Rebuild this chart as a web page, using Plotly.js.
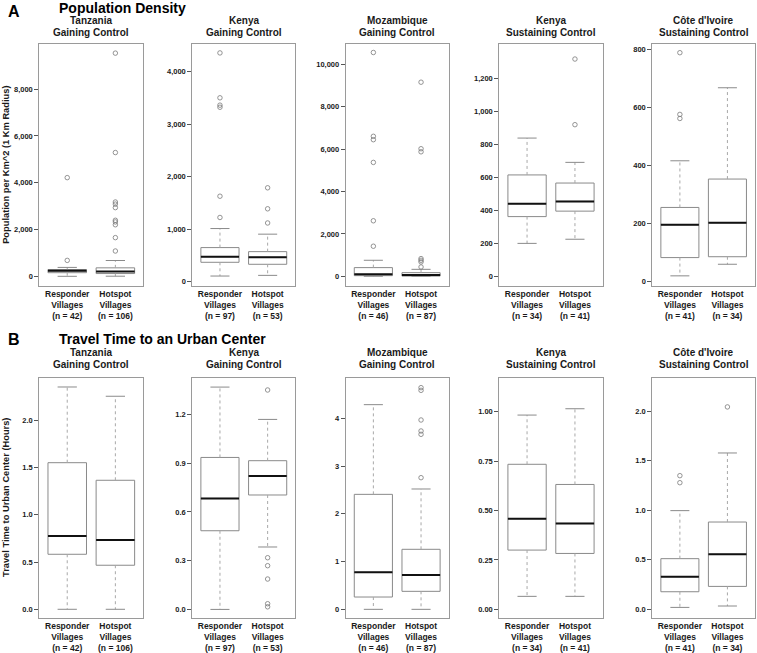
<!DOCTYPE html>
<html><head><meta charset="utf-8">
<script src="https://cdn.plot.ly/plotly-3.0.1.min.js"></script>
<style>html,body{margin:0;padding:0;background:#fff}#chart{width:757px;height:653px}</style>
</head><body><div id="chart"></div>
<script>
// ---------- DATA ----------
const groups = ["Responder Villages", "Hotspot Villages"];
const panelCountries = ["Tanzania", "Kenya", "Mozambique", "Kenya", "Côte d'Ivoire"];
const panelStatus = ["Gaining Control", "Gaining Control", "Gaining Control", "Sustaining Control", "Sustaining Control"];
const respN = [42, 97, 46, 34, 41];
const hotN = [106, 53, 87, 41, 34];

// box stats: [lower whisker, q1, median, q3, upper whisker]
const popResp = [[10,165,245,300,390],[109,371,478,651,1014],[5,33,95,412,758],[200,362,440,614,837],[20,83,196,256,417]];
const popHot  = [[15,128,214,372,685],[122,333,467,574,907],[5,14,62,175,331],[225,395,454,565,690],[60,86,203,354,669]];
const popRespOut = [[690,4220],[1225,1630,3325,3365,3505,4360],[1420,2620,5370,6440,6600,10550],[],[563,577,790]];
const popHotOut  = [[1090,1660,2210,2330,2400,2940,3090,3180,5290,9530],[1120,1390,1790],[442,679,758,837,5870,6015,9150],[918,1315],[]];

const travResp = [[0,0.582,0.776,1.551,2.352],[0,0.484,0.683,0.935,1.368],[0,0.258,0.775,2.408,4.286],[0.066,0.300,0.459,0.734,0.983],[0.020,0.178,0.330,0.512,0.997]];
const travHot  = [[0,0.466,0.733,1.365,2.254],[0.384,0.704,0.821,0.915,1.169],[0,0.377,0.719,1.257,2.520],[0.066,0.283,0.435,0.632,1.015],[0.034,0.232,0.556,0.882,1.579]];
const travRespOut = [[],[],[],[],[1.279,1.350]];
const travHotOut  = [[],[0.016,0.035,0.187,0.269,0.318,1.350],[2.757,3.665,3.735,3.965,4.586,4.642],[],[2.044]];

const popTicks = [[0,2000,4000,6000,8000],[0,1000,2000,3000,4000],[0,2000,4000,6000,8000,10000],[0,200,400,600,800,1000,1200],[0,200,400,600,800]];
const travTicks = [[0,0.5,1,1.5,2],[0,0.3,0.6,0.9,1.2],[0,1,2,3,4],[0,0.25,0.5,0.75,1],[0,0.5,1,1.5,2]];

const rowTitles = ["Population Density", "Travel Time to an Urban Center"];
const rowLetters = ["A", "B"];
const yTitles = ["Population per Km^2 (1 Km Radius)", "Travel Time to Urban Center (Hours)"];

// ---------- LAYOUT CONFIG ----------
const W = 757, H = 653;
const px = x => x / W, py = y => 1 - y / H;
const colX = [[39.3,143.3],[192.3,295.3],[345.7,448.7],[499.3,602.7],[652.3,755]];
const rowY = [[44,285.7],[378.3,617.7]];
const popRange = [[-390,9920],[-75,4530],[-440,10950],[-56,1406],[-14,820]];
const travRange = [[-0.089,2.444],[-0.051,1.422],[-0.175,4.838],[-0.042,1.169],[-0.084,2.333]];
const travFmt = ['.1f','.1f','d','.2f','.1f'];
const titleY = [20.7, 352.8];

const FONT = "Liberation Sans, Arial, Helvetica, sans-serif";
const BOXC = '#8a8a8a', FRAME = '#9a9a9a', TXT = '#1a1a1a';

const traces = [];
const layout = {
  width: W, height: H, margin: {l:0, r:0, t:0, b:0},
  paper_bgcolor: '#fff', plot_bgcolor: '#fff', showlegend: false,
  font: {family: FONT, color: TXT},
  annotations: []
};

function addPanel(idx, row, col, resp, hot, respOut, hotOut, range, ticks, fmt) {
  const xa = idx === 1 ? 'xaxis' : 'xaxis' + idx;
  const ya = idx === 1 ? 'yaxis' : 'yaxis' + idx;
  const xr = idx === 1 ? 'x' : 'x' + idx;
  const yr = idx === 1 ? 'y' : 'y' + idx;
  const stats = [resp, hot];
  const pos = [1, 2];
  const wx = [], wy = [], cx = [], cy = [], mx = [], my = [];
  stats.forEach((s, i) => {
    const p = pos[i];
    wx.push(p, p, null, p, p, null);
    wy.push(s[3], s[4], null, s[1], s[0], null);
    cx.push(p - 0.2, p + 0.2, null, p - 0.2, p + 0.2, null);
    cy.push(s[4], s[4], null, s[0], s[0], null);
    mx.push(p - 0.4, p + 0.4, null);
    my.push(s[2], s[2], null);
  });
  traces.push({type:'scatter', mode:'lines', x:wx, y:wy, xaxis:xr, yaxis:yr,
    line:{color:'#a8a8a8', width:1, dash:'dot'}, hoverinfo:'skip'});
  traces.push({type:'scatter', mode:'lines', x:cx, y:cy, xaxis:xr, yaxis:yr,
    line:{color:BOXC, width:1}, hoverinfo:'skip'});
  traces.push({type:'box', x:pos, xaxis:xr, yaxis:yr,
    q1: stats.map(s => s[1]), median: stats.map(s => s[2]), q3: stats.map(s => s[3]),
    lowerfence: stats.map(s => s[1]), upperfence: stats.map(s => s[3]),
    width: 0.8, whiskerwidth: 0, boxpoints: false,
    line:{color:BOXC, width:1}, fillcolor:'#ffffff'});
  traces.push({type:'scatter', mode:'lines', x:mx, y:my, xaxis:xr, yaxis:yr,
    line:{color:'#111', width:2}, hoverinfo:'skip'});
  const ox = [], oy = [];
  respOut.forEach(v => { ox.push(1); oy.push(v); });
  hotOut.forEach(v => { ox.push(2); oy.push(v); });
  traces.push({type:'scatter', mode:'markers', x:ox, y:oy, xaxis:xr, yaxis:yr,
    marker:{symbol:'circle-open', size:4.5, color:'#7a7a7a', line:{width:0.8, color:'#7a7a7a'}}});

  layout[xa] = {
    domain: [px(colX[col][0]), px(colX[col][1])], anchor: yr, range: [0.42, 2.58],
    tickvals: pos, ticktext: ["Responder<br>Villages<br>(n = " + respN[col] + ")", "Hotspot<br>Villages<br>(n = " + hotN[col] + ")"],
    ticks: '', showgrid: false, zeroline: false, showline: true, mirror: true,
    linecolor: FRAME, linewidth: 1, fixedrange: true,
    tickfont: {family: FONT, size: 8.5, weight: 'bold', color: TXT}
  };
  layout[ya] = {
    domain: [py(rowY[row][1]), py(rowY[row][0])], anchor: xr, range: range,
    tickvals: ticks, tickformat: fmt, ticks: 'outside', ticklen: 4, tickcolor: '#555',
    showgrid: false, zeroline: false, showline: true, mirror: true, linecolor: FRAME, linewidth: 1,
    tickfont: {family: FONT, size: 7.5, weight: 'bold', color: TXT}, fixedrange: true
  };
  const cxm = (colX[col][0] + colX[col][1]) / 2;
  layout.annotations.push({xref:'paper', yref:'paper', x: px(cxm), y: py(titleY[row]), text: panelCountries[col],
    showarrow:false, xanchor:'center', yanchor:'middle', font:{family:FONT, size:10, weight:'bold', color:TXT}});
  layout.annotations.push({xref:'paper', yref:'paper', x: px(cxm), y: py(titleY[row] + 11.7), text: panelStatus[col],
    showarrow:false, xanchor:'center', yanchor:'middle', font:{family:FONT, size:10, weight:'bold', color:TXT}});
}

let k = 1;
for (let c = 0; c < 5; c++) {
  addPanel(k++, 0, c, popResp[c], popHot[c], popRespOut[c], popHotOut[c], popRange[c], popTicks[c], ',d');
}
for (let c = 0; c < 5; c++) {
  addPanel(k++, 1, c, travResp[c], travHot[c], travRespOut[c], travHotOut[c], travRange[c], travTicks[c], travFmt[c]);
}

const letterY = [11.5, 339];
const headY = [8, 338.5];
for (let r = 0; r < 2; r++) {
  layout.annotations.push({xref:'paper', yref:'paper', x: px(6), y: py(letterY[r]), text: rowLetters[r],
    showarrow:false, xanchor:'left', yanchor:'middle', font:{family:FONT, size:16, weight:'bold', color:'#000'}});
  layout.annotations.push({xref:'paper', yref:'paper', x: px(57), y: py(headY[r]), text: rowTitles[r],
    showarrow:false, xanchor:'left', yanchor:'middle', font:{family:FONT, size:14, weight:'bold', color:'#000'}});
  layout.annotations.push({xref:'paper', yref:'paper', x: px(6), y: py((rowY[r][0] + rowY[r][1]) / 2), text: yTitles[r],
    textangle: -90, showarrow:false, xanchor:'center', yanchor:'middle', font:{family:FONT, size:9.3, weight:'bold', color:TXT}});
}

Plotly.newPlot('chart', traces, layout, {displayModeBar:false, staticPlot:true});
</script>
</body></html>
